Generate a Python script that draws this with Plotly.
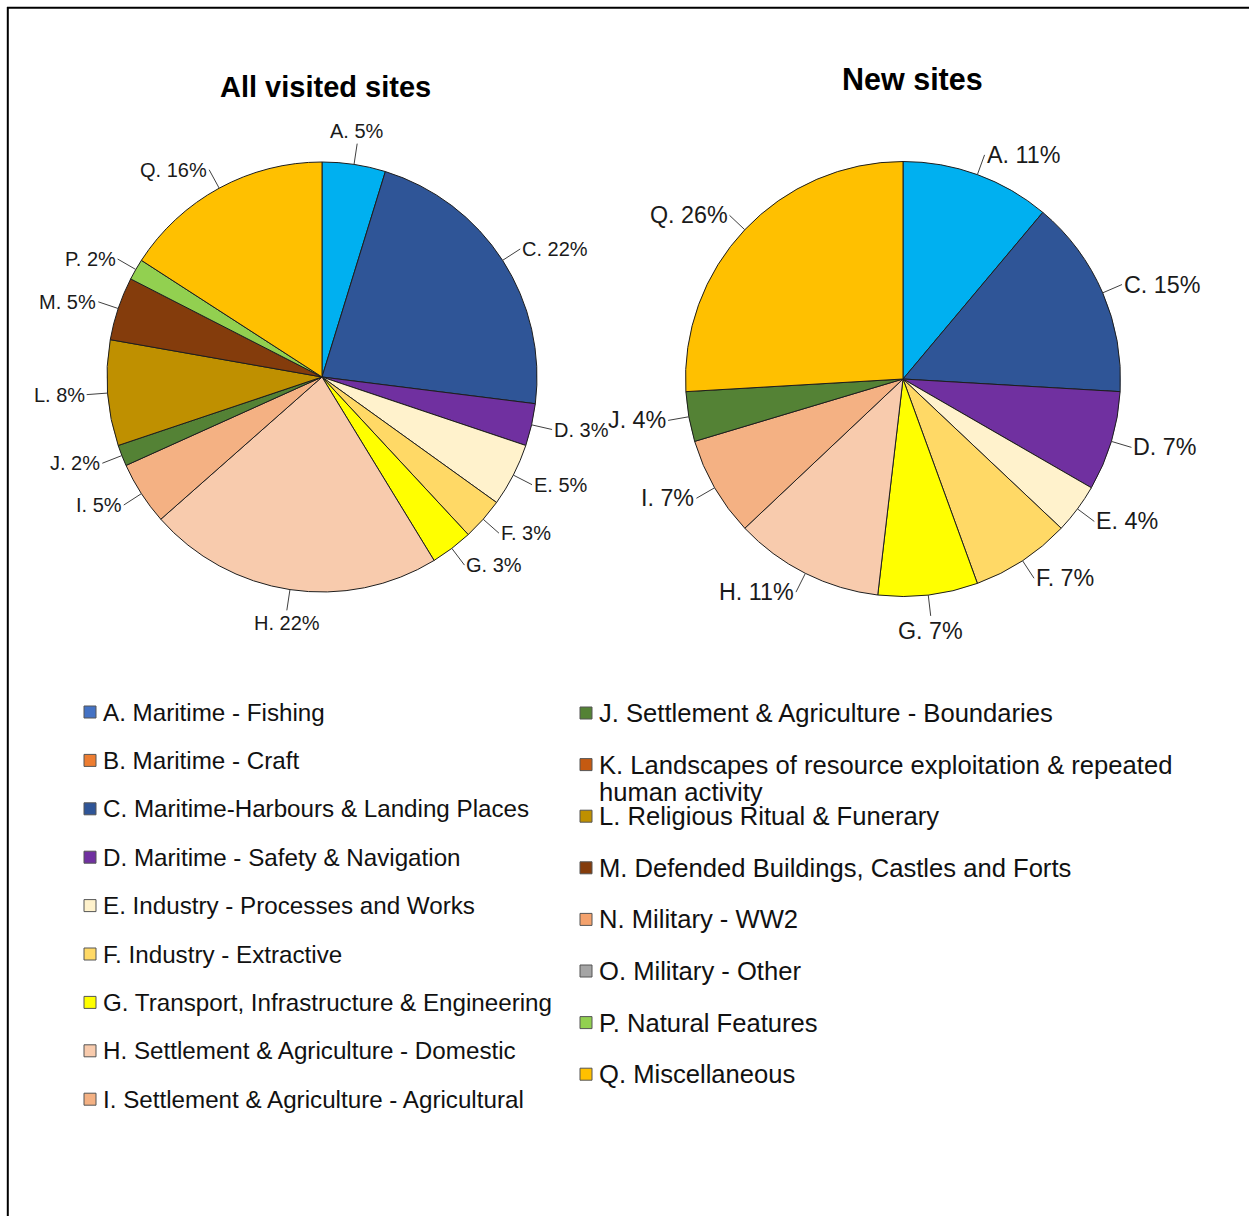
import math
import plotly.graph_objects as go

W, H = 1249, 1216

# ---------------- data ----------------
codes = ["A", "B", "C", "D", "E", "F", "G", "H", "I", "J", "K", "L", "M", "N", "O", "P", "Q"]
names = [
    "A. Maritime - Fishing",
    "B. Maritime - Craft",
    "C. Maritime-Harbours & Landing Places",
    "D. Maritime - Safety & Navigation",
    "E. Industry - Processes and Works",
    "F. Industry - Extractive",
    "G. Transport, Infrastructure & Engineering",
    "H. Settlement & Agriculture - Domestic",
    "I. Settlement & Agriculture - Agricultural",
    "J. Settlement & Agriculture - Boundaries",
    "K. Landscapes of resource exploitation & repeated|human activity",
    "L. Religious Ritual & Funerary",
    "M. Defended Buildings, Castles and Forts",
    "N. Military - WW2",
    "O. Military - Other",
    "P. Natural Features",
    "Q. Miscellaneous",
]
legend_colors = ["#4472C4", "#ED7D31", "#2F5597", "#7030A0", "#FFF2CC", "#FFD966",
                 "#FFFF00", "#F8CBAD", "#F4B183", "#548235", "#C55A11", "#BF9000",
                 "#843C0C", "#F4A26D", "#A5A5A5", "#92D050", "#FFC000"]
pie_colors = {"A": "#00B0F0", "C": "#2F5597", "D": "#7030A0", "E": "#FFF2CC",
              "F": "#FFD966", "G": "#FFFF00", "H": "#F8CBAD", "I": "#F4B183",
              "J": "#548235", "L": "#BF9000", "M": "#843C0C", "P": "#92D050",
              "Q": "#FFC000"}

all_labels = ["A", "C", "D", "E", "F", "G", "H", "I", "J", "L", "M", "P", "Q"]
all_counts = [3, 14, 2, 3, 2, 2, 14, 3, 1, 5, 3, 1, 10]

new_labels = ["A", "C", "D", "E", "F", "G", "H", "I", "J", "Q"]
new_counts = [3, 4, 2, 1, 2, 2, 3, 2, 1, 7]

titles = ["All visited sites", "New sites"]

# ---------------- layout constants (pixels) ----------------
FONT = "Liberation Sans, Arial, sans-serif"
pies = [
    dict(labels=all_labels, values=all_counts, cx=322, cy=377, r=215, fs=20,
         title=titles[0], tx=325, ty=87, tfs=29),
    dict(labels=new_labels, values=new_counts, cx=903, cy=379, r=217.5, fs=23.3,
         title=titles[1], tx=912, ty=79, tfs=30.5),
]

def px(x):
    return x / W

def py(y):
    return 1 - y / H

fig = go.Figure()
annotations = []
shapes = []

for p in pies:
    cx, cy, r = p["cx"], p["cy"], p["r"]
    fig.add_trace(go.Pie(
        labels=p["labels"], values=p["values"],
        marker=dict(colors=[pie_colors[c] for c in p["labels"]],
                    line=dict(color="#1e1e1e", width=1)),
        sort=False, direction="clockwise", rotation=0,
        textinfo="none", hoverinfo="label+value+percent",
        showlegend=False,
        domain=dict(x=[px(cx - r), px(cx + r)], y=[py(cy + r), py(cy - r)]),
    ))
    total = sum(p["values"])
    cum = 0
    d = 21
    for lab, v in zip(p["labels"], p["values"]):
        mid = (cum + v / 2) / total * 2 * math.pi
        cum += v
        s, c = math.sin(mid), math.cos(mid)
        hx, hy = cx + r * s, cy - r * c
        if s > 0.25:
            xa, ya = "left", "middle"
        elif s < -0.25:
            xa, ya = "right", "middle"
        else:
            xa, ya = "center", ("bottom" if c > 0 else "top")
        pct = round(100 * v / total)
        annotations.append(dict(
            x=px(hx), y=py(hy), xref="paper", yref="paper",
            ax=d * s, ay=-d * c, axref="pixel", ayref="pixel",
            text=f"{lab}. {pct}%", showarrow=True, arrowhead=0,
            arrowwidth=1, arrowcolor="#404040", standoff=0,
            xanchor=xa, yanchor=ya,
            font=dict(family=FONT, size=p["fs"], color="#1a1a1a"),
        ))
    annotations.append(dict(
        x=px(p["tx"]), y=py(p["ty"]), xref="paper", yref="paper",
        text=f"<b>{p['title']}</b>", showarrow=False,
        xanchor="center", yanchor="middle",
        font=dict(family=FONT, size=p["tfs"], color="#000000"),
    ))

# ---------------- legend (two columns) ----------------
cols = [
    dict(idx=range(0, 9), sq_x=84, tx=101, y0=712, step=48.4, fs=24.2),
    dict(idx=range(9, 17), sq_x=580, tx=597, y0=713, step=51.6, fs=25.6),
]
SQ = 12
for col in cols:
    for k, i in enumerate(col["idx"]):
        yc = col["y0"] + k * col["step"]
        shapes.append(dict(
            type="rect", xref="paper", yref="paper",
            x0=px(col["sq_x"]), x1=px(col["sq_x"] + SQ),
            y0=py(yc + SQ / 2), y1=py(yc - SQ / 2),
            fillcolor=legend_colors[i], line=dict(color="#555555", width=1),
        ))
        parts = names[i].split("|")
        for j, part in enumerate(parts):
            annotations.append(dict(
                x=px(col["tx"]), y=py(yc + j * 27), xref="paper", yref="paper",
                text=part, showarrow=False, xanchor="left", yanchor="middle",
                font=dict(family=FONT, size=col["fs"], color="#111111"),
            ))

# ---------------- frame ----------------
shapes.append(dict(type="line", xref="paper", yref="paper",
                   x0=px(7), x1=1, y0=py(7.8), y1=py(7.8),
                   line=dict(color="black", width=2)))
shapes.append(dict(type="line", xref="paper", yref="paper",
                   x0=px(7.8), x1=px(7.8), y0=py(7), y1=0,
                   line=dict(color="black", width=2)))

fig.update_layout(
    width=W, height=H,
    margin=dict(l=0, r=0, t=0, b=0),
    paper_bgcolor="white", plot_bgcolor="white",
    annotations=annotations, shapes=shapes,
    showlegend=False,
)

fig.write_html("out.html")
